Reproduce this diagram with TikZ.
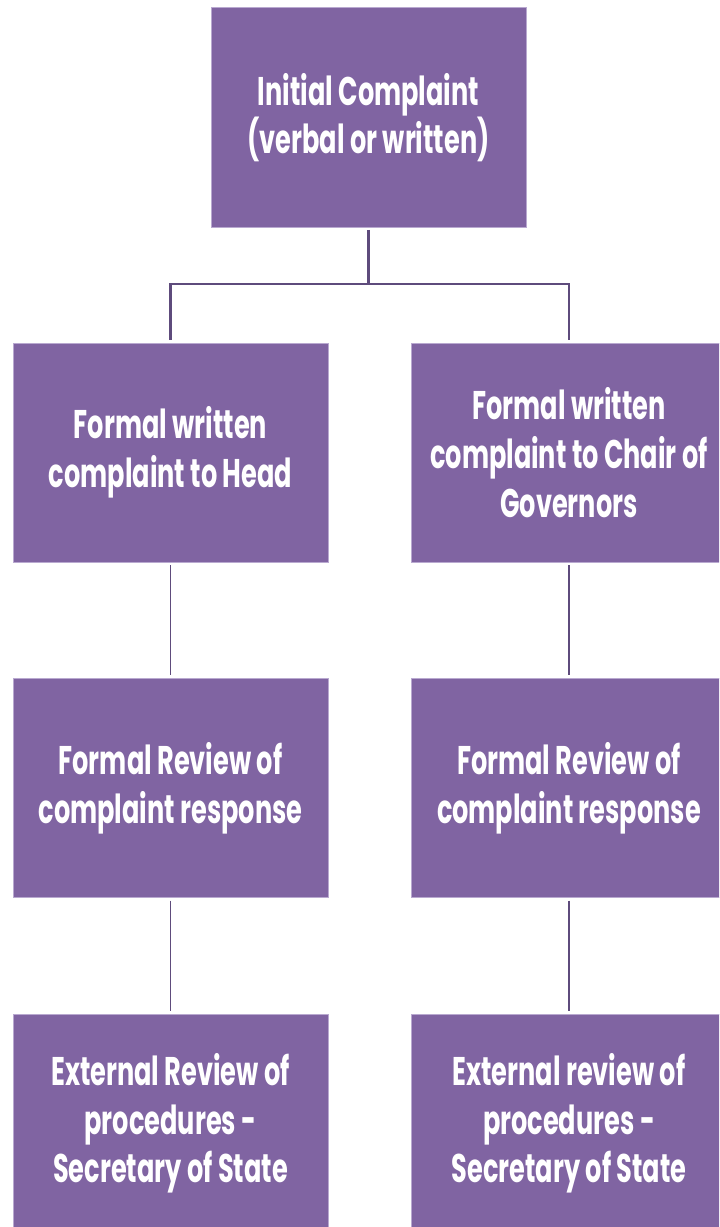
\documentclass[tikz,border=0pt]{standalone}
\usepackage{fontspec}
\setmainfont{Poppins}[FakeStretch=0.64]
\definecolor{boxpurple}{HTML}{8064A2}
\definecolor{boxedge}{HTML}{B9A9D0}
\definecolor{linepurple}{HTML}{5E4B7C}
\begin{document}
\begin{tikzpicture}[x=0.75pt,y=-0.75pt,
  box/.style={rectangle, fill=boxpurple, draw=boxedge, line width=0.5pt,
    minimum width=236.25pt, minimum height=164.5pt, inner sep=0pt,
    align=center, text=white, font=\bfseries\fontsize{30}{36.5}\selectfont},
  tree/.style={draw=linepurple, line width=2.2pt},
  link/.style={draw=linepurple, line width=0.9pt, shorten <=2pt, shorten >=2pt}]
\useasboundingbox (0,0) rectangle (719,1227);
\clip (0,0) rectangle (719,1227);
\node[box, minimum height=165pt] (top) at (368.5,117.5) {Initial Complaint\\(verbal or written)};
\node[box] (L1) at (170.5,452.5) {Formal written\\complaint to Head};
\node[box] (R1) at (569,452.5) {Formal written\\complaint to Chair of\\Governors};
\node[box] (L2) at (170.5,788) {Formal Review of\\complaint response};
\node[box] (R2) at (569,788) {Formal Review of\\complaint response};
\node[box] (L3) at (170.5,1123.5) {External Review of\\procedures -\\Secretary of State};
\node[box] (R3) at (569,1123.5) {External review of\\procedures -\\Secretary of State};
\coordinate (jc) at (368.5,284);
\draw[tree, shorten <=1.5pt] (top.south) -- (jc);
\draw[tree, shorten <=2pt, shorten >=2pt] (L1.north) -- (L1.north |- jc) -- (R1.north |- jc) -- (R1.north);
\draw[link] (L1.south) -- (L2.north);
\draw[link] (L2.south) -- (L3.north);
\draw[link] (R1.south) -- (R2.north);
\draw[link] (R2.south) -- (R3.north);
\end{tikzpicture}
\end{document}
